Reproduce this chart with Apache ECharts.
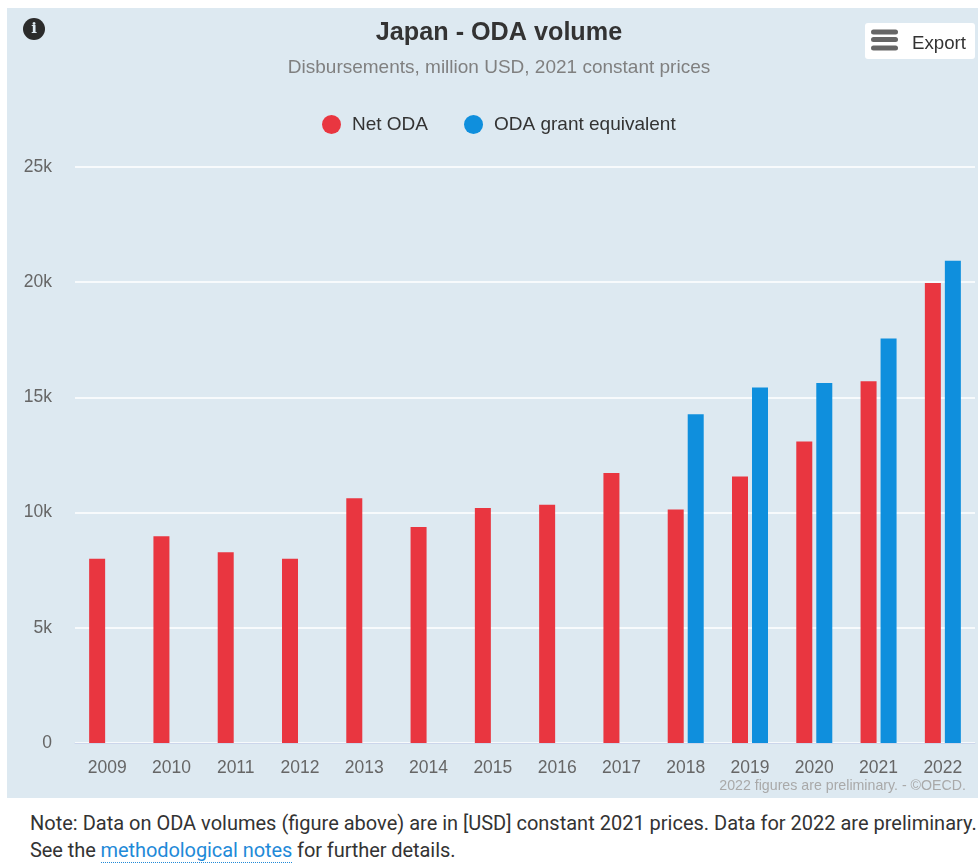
<!DOCTYPE html>
<html>
<head>
<meta charset="utf-8">
<title>Japan - ODA volume</title>
<script src="https://cdn.jsdelivr.net/npm/echarts@6/dist/echarts.min.js"></script>
<style>
    html, body { margin: 0; padding: 0; background: #fff; overflow: hidden; }
    #main { position: absolute; left: 7px; top: 8px; width: 971px; height: 790px; }
    #note { position: absolute; left: 30px; top: 810px; width: 948px; font: 20px/27px Roboto, sans-serif; color: #333; white-space: nowrap; }
    #note a { color: #1f8ad8; text-decoration: none; border-bottom: 1px dotted #1f8ad8; }
    #line2 { letter-spacing: -0.08px; }
</style>
</head>
<body>
<div id="main"></div>
<div id="note">Note: Data on ODA volumes (figure above) are in [USD] constant 2021 prices. Data for 2022 are preliminary.<br><span id="line2">See the <a href="#">methodological notes</a> for further details.</span></div>
<script>
var years = ['2009', '2010', '2011', '2012', '2013', '2014', '2015', '2016', '2017', '2018', '2019', '2020', '2021', '2022'];
var netOda = [8000, 8970, 8280, 8000, 10620, 9380, 10200, 10340, 11720, 10130, 11570, 13090, 15700, 19970];
var grantEquivalent = [null, null, null, null, null, null, null, null, null, 14270, 15430, 15620, 17560, 20930];
var yTicks = ['0', '5k', '10k', '15k', '20k', '25k'];

var font = '"Liberation Sans", Arial, sans-serif';
var myChart = echarts.init(document.getElementById('main'));

myChart.setOption({
    backgroundColor: '#dde9f1',
    animation: false,
    title: {
        text: 'Japan - ODA volume',
        subtext: 'Disbursements, million USD, 2021 constant prices',
        left: 487,
        textAlign: 'center',
        top: 8,
        itemGap: 12,
        textStyle: { fontFamily: font, fontSize: 25.2, fontWeight: 'bold', color: '#333' },
        subtextStyle: { fontFamily: font, fontSize: 19, color: '#808080' }
    },
    legend: {
        left: 310,
        top: 102,
        itemWidth: 19,
        itemHeight: 19,
        itemGap: 36,
        icon: 'circle',
        textStyle: { fontFamily: font, fontSize: 19, color: '#333', padding: [0, 0, 0, 6] },
        data: ['Net ODA', 'ODA grant equivalent']
    },
    grid: { left: 68, right: 3, top: 159, bottom: 55 },
    xAxis: {
        type: 'category',
        data: years,
        axisTick: { show: false },
        axisLine: { lineStyle: { color: '#ccd6eb' } },
        axisLabel: { fontFamily: font, fontSize: 17.5, color: '#666', margin: 16 }
    },
    yAxis: {
        type: 'value',
        min: 0,
        max: 25000,
        interval: 5000,
        axisLine: { show: false },
        axisTick: { show: false },
        splitLine: { lineStyle: { color: '#fff', width: 1.5 } },
        axisLabel: {
            fontFamily: font,
            fontSize: 17.5,
            color: '#666',
            margin: 23,
            padding: [11, 0, 0, 0],
            formatter: function (value) { return yTicks[value / 5000]; }
        }
    },
    series: [
        { name: 'Net ODA', type: 'bar', data: netOda, barWidth: 16, barGap: '25%', itemStyle: { color: '#e93640' } },
        { name: 'ODA grant equivalent', type: 'bar', data: grantEquivalent, barWidth: 16, itemStyle: { color: '#0f8fdd' } }
    ],
    graphic: [
        // info icon
        { type: 'circle', shape: { cx: 27, cy: 21, r: 11 }, style: { fill: '#2b2b2b' } },
        { type: 'text', x: 27, y: 21, style: { text: 'i', fill: '#dde9f1', fontFamily: '"DejaVu Serif", serif', fontSize: 15, fontWeight: 'bold', align: 'center', verticalAlign: 'middle' } },
        // export button
        { type: 'rect', shape: { x: 858, y: 15, width: 110, height: 36, r: 3 }, style: { fill: '#fff' } },
        { type: 'rect', shape: { x: 864, y: 21.5, width: 27, height: 5, r: 2.5 }, style: { fill: '#666' } },
        { type: 'rect', shape: { x: 864, y: 29, width: 27, height: 5, r: 2.5 }, style: { fill: '#666' } },
        { type: 'rect', shape: { x: 864, y: 37.5, width: 27, height: 5, r: 2.5 }, style: { fill: '#666' } },
        { type: 'text', x: 905, y: 35.5, style: { text: 'Export', fill: '#333', fontFamily: font, fontSize: 18.7, verticalAlign: 'middle' } },
        // credits
        { type: 'text', right: 12, top: 771, style: { text: '2022 figures are preliminary. - ©OECD.', fill: '#a9a9a9', fontFamily: font, fontSize: 14.2 } }
    ]
});
</script>
</body>
</html>
